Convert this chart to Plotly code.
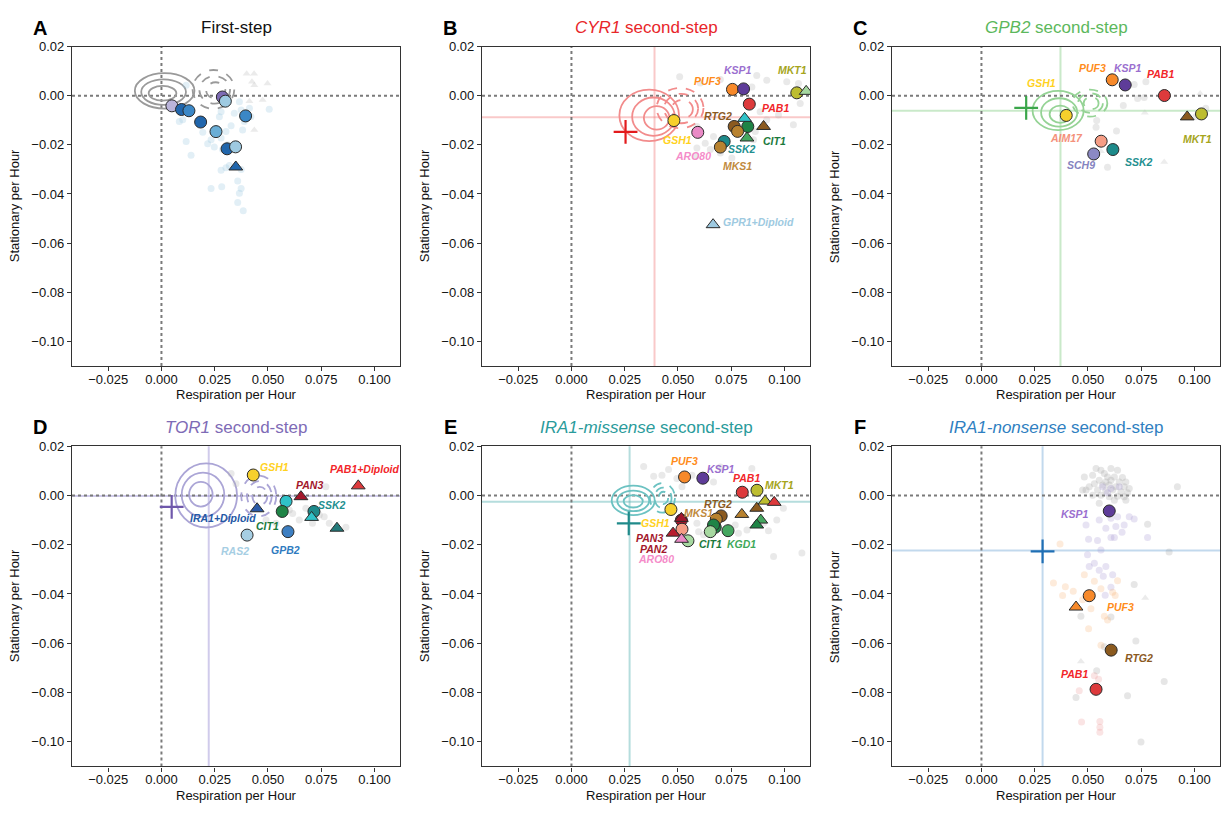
import plotly.graph_objects as go

FONT = "Liberation Sans, Arial, Helvetica, sans-serif"
W, H = 1225, 813

# ---------------- axes ticks ----------------
X_TICKS = [-0.025, 0.0, 0.025, 0.05, 0.075, 0.1]
X_TICKTEXT = ["\u22120.025", "0.000", "0.025", "0.050", "0.075", "0.100"]
Y_TICKS = [0.02, 0.0, -0.02, -0.04, -0.06, -0.08, -0.10]
Y_TICKTEXT = ["0.02", "0.00", "\u22120.02", "\u22120.04", "\u22120.06", "\u22120.08", "\u22120.10"]
X_RANGE = [-0.042, 0.112]
Y_RANGE = [-0.110, 0.020]

# ---------------- colours ----------------
GENE_COLORS = {
    "GSH1": "#f7d02c", "PUF3": "#f7892a", "KSP1": "#5e3c99", "PAB1": "#dd3a3c",
    "MKT1": "#bdbd30", "RTG2": "#8b5a1f", "MKS1": "#b8822f", "CIT1": "#1f8446",
    "KGD1": "#45a760", "SSK2": "#1d8a8a", "ARO80": "#ea8ac6", "AIM17": "#f59d85",
    "SCH9": "#8b89c4", "GPR1": "#9ecae1", "PAN3": "#a3172b", "PAN2": "#b71c2e",
    "RAS2": "#a6cee3", "GPB2": "#3d7fc2", "IRA1": "#2b5aa8", "CYAN": "#2fc2c8",
    "LGREEN": "#a6d8a0", "LAV": "#bab4da", "PURP": "#7d6bb3", "DBLUE": "#2166ac",
    "MBLUE": "#3b87c6", "SBLUE": "#6aaed6", "LBLUE": "#9ecae1", "DTEAL": "#237a7a",
}
LABEL_COLORS = {
    "GSH1": "#ffd21f", "PUF3": "#ff8c1a", "KSP1": "#9b6fcf", "PAB1": "#f2262a",
    "MKT1": "#a6a51c", "RTG2": "#8b5a1f", "MKS1": "#c08a3e", "CIT1": "#1b7a3c",
    "KGD1": "#3fa95a", "SSK2": "#238f8f", "ARO80": "#f58cc9", "AIM17": "#f4917b",
    "SCH9": "#8583c0", "GPR1+Diploid": "#9ecae1", "PAN3": "#a3172b", "PAN2": "#a3172b",
    "RAS2": "#a6cee3", "GPB2": "#2f7bbf", "IRA1+Diploid": "#2458a5", "PAB1+Diploid": "#f2262a",
}

# ---------------- panel A : first step ----------------
A_gene = ["LAV", "DBLUE", "MBLUE", "PURP", "LBLUE", "MBLUE", "DBLUE", "SBLUE", "DBLUE", "LBLUE", "DBLUE"]
A_x = [0.0049, 0.0094, 0.0129, 0.0286, 0.0300, 0.0395, 0.0184, 0.0256, 0.0308, 0.0348, 0.0349]
A_y = [-0.0041, -0.0056, -0.0061, -0.0005, -0.0022, -0.0082, -0.0107, -0.0146, -0.0216, -0.0208, -0.0290]
A_kind = ["h", "h", "h", "h", "h", "h", "h", "h", "h", "h", "d"]
A_bg_x = [0.0116, 0.0084, 0.0100, 0.0194, 0.0272, 0.0280, 0.0327, 0.0303, 0.0381, 0.0389,
          0.0374, 0.0413, 0.0420, 0.0116, 0.0139, 0.0217, 0.0233, 0.0248, 0.0280, 0.0287,
          0.0311, 0.0280, 0.0303, 0.0319, 0.0374, 0.0358, 0.0374, 0.0366, 0.0358, 0.0384,
          0.0233, 0.0283, 0.0506, 0.0366, 0.0342]
A_bg_y = [0.0043, -0.0105, -0.0098, -0.0149, -0.0085, -0.0065, -0.0122, -0.0145, -0.0139, -0.0105,
          -0.0058, -0.0051, -0.0085, -0.0186, -0.0242, -0.0195, -0.0179, -0.0209, -0.0172, -0.0219,
          -0.0199, -0.0303, -0.0293, -0.0284, -0.0300, -0.0347, -0.0378, -0.0397, -0.0435, -0.0468,
          -0.0378, -0.0370, -0.0055, -0.0024, -0.0071]
A_bgtri_x = [0.0400, 0.0435, 0.0436, 0.0498, 0.0425, 0.0413, 0.0475, 0.0436]
A_bgtri_y = [0.0090, 0.0090, 0.0043, 0.0050, 0.0057, -0.0022, -0.0017, -0.0139]

# ---------------- panel B : CYR1 ----------------
B_gene = ["GSH1", "ARO80", "PUF3", "KSP1", "MKT1", "LGREEN", "PAB1", "CYAN", "RTG2", "CIT1",
          "RTG2", "MKS1", "KGD1", "SSK2", "MKS1", "GPR1"]
B_x = [0.0481, 0.0593, 0.0756, 0.0808, 0.1058, 0.1102, 0.0835, 0.0813, 0.0764, 0.0828,
       0.0902, 0.0780, 0.0824, 0.0717, 0.0699, 0.0665]
B_y = [-0.0101, -0.0149, 0.0026, 0.0028, 0.0012, 0.0018, -0.0034, -0.0092, -0.0125, -0.0125,
       -0.0125, -0.0145, -0.0172, -0.0186, -0.0209, -0.0525]
B_kind = ["h", "h", "h", "h", "h", "d", "h", "d", "h", "h", "d", "h", "d", "h", "h", "d"]
B_lab = ["KSP1", "MKT1", "PUF3", "PAB1", "RTG2", "GSH1", "CIT1", "SSK2", "ARO80", "MKS1", "GPR1+Diploid"]
B_lab_x = [0.0783, 0.1036, 0.0638, 0.0960, 0.0689, 0.0497, 0.0952, 0.0800, 0.0572, 0.0780, 0.0877]
B_lab_y = [0.0106, 0.0105, 0.0061, -0.0048, -0.0082, -0.0182, -0.0186, -0.0215, -0.0246, -0.0284, -0.0516]
B_bg_x = [0.0508, 0.0605, 0.0699, 0.0870, 0.0847, 0.0917, 0.1011, 0.1066, 0.1074, 0.0495,
          0.0589, 0.0667, 0.0706, 0.0886, 0.0972, 0.1042, 0.0917, 0.0863, 0.0699, 0.0652,
          0.0589, 0.0753, 0.0628, 0.0855, 0.0581]
B_bg_y = [0.0077, 0.0052, 0.0066, 0.0083, 0.0036, 0.0063, 0.0057, 0.0050, -0.0031, -0.0098,
          -0.0125, -0.0166, -0.0176, -0.0065, -0.0078, -0.0118, -0.0098, -0.0145, -0.0233, -0.0219,
          -0.0213, -0.0253, -0.0193, -0.0179, -0.0246]

# ---------------- panel C : GPB2 ----------------
C_gene = ["GSH1", "PUF3", "KSP1", "PAB1", "RTG2", "MKT1", "AIM17", "SSK2", "SCH9"]
C_x = [0.0398, 0.0614, 0.0675, 0.0859, 0.0966, 0.1033, 0.0562, 0.0617, 0.0527]
C_y = [-0.0080, 0.0065, 0.0044, 0.0001, -0.0086, -0.0074, -0.0185, -0.0219, -0.0237]
C_kind = ["h", "h", "h", "h", "d", "h", "h", "h", "h"]
C_lab = ["GSH1", "PUF3", "KSP1", "PAB1", "AIM17", "MKT1", "SSK2", "SCH9"]
C_lab_x = [0.0280, 0.0520, 0.0689, 0.0839, 0.0397, 0.1013, 0.0741, 0.0467]
C_lab_y = [0.0054, 0.0114, 0.0114, 0.0088, -0.0171, -0.0175, -0.0270, -0.0283]
C_bg_x = [0.0717, 0.0772, 0.0733, 0.0666, 0.0541, 0.0538, 0.0634, 0.0592, 0.0764, 0.1053, 0.1007]
C_bg_y = [0.0046, 0.0057, -0.0011, -0.0040, -0.0101, -0.0128, -0.0143, -0.0291, -0.0007, -0.0051, -0.0085]
C_bgtri_x = [0.0767, 0.0858, 0.1027, 0.0561]
C_bgtri_y = [-0.0069, -0.0270, 0.0009, -0.0226]

# ---------------- panel D : TOR1 ----------------
D_gene = ["GSH1", "PAB1", "PAN3", "CYAN", "IRA1", "CIT1", "SSK2", "CYAN", "DTEAL", "RAS2", "GPB2"]
D_x = [0.0431, 0.0924, 0.0655, 0.0585, 0.0449, 0.0567, 0.0716, 0.0705, 0.0824, 0.0402, 0.0594]
D_y = [0.0083, 0.0039, -0.0005, -0.0024, -0.0054, -0.0065, -0.0065, -0.0089, -0.0133, -0.0161, -0.0147]
D_kind = ["h", "d", "d", "h", "d", "h", "h", "d", "d", "h", "h"]
D_lab = ["GSH1", "PAB1+Diploid", "PAN3", "SSK2", "IRA1+Diploid", "CIT1", "RAS2", "GPB2"]
D_lab_x = [0.0530, 0.0956, 0.0694, 0.0800, 0.0287, 0.0498, 0.0347, 0.0581]
D_lab_y = [0.0116, 0.0106, 0.0042, -0.0040, -0.0092, -0.0122, -0.0227, -0.0222]
D_bg_x = [0.0327, 0.0350, 0.0600, 0.0616, 0.0647, 0.0678, 0.0741, 0.0788, 0.0866, 0.0772,
          0.0491, 0.0538, 0.0709, 0.0764]
D_bg_y = [0.0089, 0.0048, -0.0059, -0.0073, -0.0100, -0.0052, -0.0079, -0.0113, -0.0129, 0.0035,
          -0.0100, -0.0113, -0.0113, -0.0086]

# ---------------- panel E : IRA1-missense ----------------
E_gene = ["PUF3", "KSP1", "PAB1", "MKT1", "MKT1", "PAB1", "RTG2", "MKS1", "KGD1", "CIT1",
          "GSH1", "PAN3", "PAN3", "AIM17", "PAN2", "ARO80", "LGREEN", "RTG2", "MKS1", "CIT1",
          "CIT1", "LGREEN", "KGD1"]
E_x = [0.0531, 0.0617, 0.0802, 0.0871, 0.0909, 0.0952, 0.0870, 0.0800, 0.0889, 0.0870,
       0.0467, 0.0516, 0.0516, 0.0519, 0.0477, 0.0517, 0.0547, 0.0703, 0.0680, 0.0675,
       0.0667, 0.0652, 0.0735]
E_y = [0.0075, 0.0070, 0.0013, 0.0021, -0.0023, -0.0028, -0.0052, -0.0077, -0.0100, -0.0120,
       -0.0057, -0.0100, -0.0093, -0.0137, -0.0153, -0.0178, -0.0184, -0.0083, -0.0096, -0.0129,
       -0.0120, -0.0147, -0.0143]
E_kind = ["h", "h", "h", "h", "d", "d", "d", "d", "d", "d",
          "h", "h", "d", "h", "d", "d", "h", "h", "h", "h",
          "h", "h", "h"]
E_lab = ["PUF3", "KSP1", "PAB1", "MKT1", "RTG2", "MKS1", "GSH1", "PAN3", "CIT1", "KGD1", "PAN2", "ARO80"]
E_lab_x = [0.0531, 0.0702, 0.0824, 0.0975, 0.0686, 0.0598, 0.0394, 0.0367, 0.0652, 0.0800, 0.0386, 0.0398]
E_lab_y = [0.0140, 0.0106, 0.0070, 0.0043, -0.0033, -0.0070, -0.0110, -0.0171, -0.0198, -0.0198, -0.0218, -0.0257]
E_bg_x = [0.0339, 0.0386, 0.0425, 0.0456, 0.0495, 0.0519, 0.0566, 0.0667, 0.0699, 0.0847,
          0.0589, 0.0597, 0.0620, 0.0769, 0.0784, 0.0824, 0.0902, 0.0925, 0.0964, 0.0995,
          0.1082, 0.0949]
E_bg_y = [0.0118, 0.0078, 0.0082, 0.0105, 0.0069, 0.0035, 0.0082, 0.0055, 0.0116, 0.0109,
          -0.0113, -0.0147, -0.0160, -0.0120, -0.0153, -0.0140, -0.0113, -0.0143, -0.0100, -0.0052,
          -0.0234, -0.0248]

# ---------------- panel F : IRA1-nonsense ----------------
F_gene = ["KSP1", "PUF3", "PUF3", "RTG2", "PAB1"]
F_x = [0.0600, 0.0506, 0.0444, 0.0609, 0.0538]
F_y = [-0.0063, -0.0407, -0.0453, -0.0628, -0.0787]
F_kind = ["h", "h", "d", "h", "h"]
F_lab = ["KSP1", "PUF3", "RTG2", "PAB1"]
F_lab_x = [0.0441, 0.0655, 0.0741, 0.0436]
F_lab_y = [-0.0075, -0.0453, -0.0659, -0.0723]
F_gray_x = [0.0538, 0.0561, 0.0608, 0.0639, 0.0522, 0.0577, 0.0592, 0.0624, 0.0662, 0.0553,
            0.0584, 0.0608, 0.0647, 0.0678, 0.0530, 0.0569, 0.0600, 0.0631, 0.0670, 0.0694,
            0.0491, 0.0545, 0.0584, 0.0616, 0.0655, 0.0686, 0.0522, 0.0561, 0.0600, 0.0639,
            0.0670, 0.0553, 0.0624, 0.0678, 0.0483, 0.0475, 0.0506, 0.0920, 0.0717, 0.0725,
            0.0577, 0.0467, 0.0608, 0.0541, 0.0444, 0.0686, 0.0858, 0.0749, 0.0881, 0.0780]
F_gray_y = [0.0109, 0.0102, 0.0109, 0.0102, 0.0082, 0.0089, 0.0075, 0.0075, 0.0073, 0.0062,
            0.0055, 0.0062, 0.0055, 0.0055, 0.0048, 0.0042, 0.0042, 0.0035, 0.0035, 0.0028,
            0.0022, 0.0022, 0.0019, 0.0022, 0.0015, 0.0011, 0.0001, 0.0001, -0.0005, -0.0003,
            -0.0005, -0.0032, -0.0019, -0.0019, 0.0075, 0.0022, 0.0035, 0.0035, -0.0362, -0.0591,
            -0.0614, -0.0490, -0.0493, -0.0712, -0.0820, -0.0813, -0.0755, -0.1001, -0.0230, -0.0117]
F_lav_x = [0.0553, 0.0608, 0.0639, 0.0670, 0.0694, 0.0717, 0.0491, 0.0584, 0.0631, 0.0660,
           0.0608, 0.0624, 0.0545, 0.0503, 0.0498, 0.0561, 0.0530, 0.0506, 0.0584, 0.0553,
           0.0616, 0.0572, 0.0608, 0.0581, 0.0569, 0.0608, 0.0647, 0.0592, 0.0780]
F_lav_y = [-0.0100, -0.0093, -0.0086, -0.0120, -0.0086, -0.0096, -0.0120, -0.0133, -0.0126, -0.0149,
           -0.0171, -0.0171, -0.0183, -0.0178, -0.0241, -0.0221, -0.0275, -0.0288, -0.0288, -0.0304,
           -0.0322, -0.0328, -0.0373, -0.0405, 0.0035, 0.0028, 0.0035, 0.0011, -0.0171]
F_orange_x = [0.0338, 0.0394, 0.0381, 0.0431, 0.0483, 0.0530, 0.0561, 0.0616, 0.0628, 0.0639,
              0.0475, 0.0514, 0.0577, 0.0592, 0.0503, 0.0561, 0.0369]
F_orange_y = [-0.0355, -0.0371, -0.0406, -0.0389, -0.0322, -0.0348, -0.0379, -0.0393, -0.0406, -0.0346,
              -0.0423, -0.0460, -0.0490, -0.0506, -0.0541, -0.0608, -0.0197]
F_red_x = [0.0459, 0.0470, 0.0556, 0.0556, 0.0556, 0.0530, 0.0550]
F_red_y = [-0.0793, -0.0920, -0.0918, -0.0941, -0.0961, -0.0732, -0.0746]
F_bgtri_x = [0.0769, 0.0467]
F_bgtri_y = [-0.0416, -0.0674]

# ---------------- density contours (centre x, centre y, half-width, half-height) ----------------
CONT_SOLID = {
    0: [(0.0015, 0.0020, 0.0140, 0.0072), (0.0010, 0.0015, 0.0105, 0.0052), (0.0005, 0.0010, 0.0065, 0.0030)],
    1: [(0.0365, -0.0080, 0.0140, 0.0105), (0.0385, -0.0085, 0.0100, 0.0078), (0.0400, -0.0090, 0.0060, 0.0048)],
    2: [(0.0360, -0.0060, 0.0120, 0.0080), (0.0365, -0.0068, 0.0085, 0.0058), (0.0370, -0.0075, 0.0050, 0.0035)],
    3: [(0.0210, 0.0000, 0.0145, 0.0130), (0.0195, 0.0003, 0.0100, 0.0090), (0.0185, 0.0005, 0.0055, 0.0050)],
    4: [(0.0290, -0.0020, 0.0101, 0.0060), (0.0290, -0.0022, 0.0075, 0.0042), (0.0290, -0.0024, 0.0045, 0.0025)],
}
CONT_DASH = {
    0: [(0.0244, 0.0026, 0.0098, 0.0079), (0.0250, 0.0024, 0.0072, 0.0056), (0.0255, 0.0022, 0.0045, 0.0033)],
    1: [(0.0510, -0.0050, 0.0110, 0.0082), (0.0515, -0.0052, 0.0080, 0.0060), (0.0520, -0.0055, 0.0050, 0.0038)],
    2: [(0.0509, -0.0030, 0.0082, 0.0055), (0.0512, -0.0030, 0.0058, 0.0040), (0.0515, -0.0030, 0.0035, 0.0025)],
    3: [(0.0457, -0.0002, 0.0082, 0.0083), (0.0460, -0.0002, 0.0058, 0.0060), (0.0462, -0.0002, 0.0035, 0.0037)],
    4: [(0.0427, -0.0010, 0.0059, 0.0060), (0.0430, -0.0010, 0.0040, 0.0042), (0.0432, -0.0010, 0.0022, 0.0025)],
}
CONT_COLOR = {0: "#9a9a9a", 1: "#f28c8c", 2: "#95d395", 3: "#aba5d6", 4: "#6cc2c2"}

# ancestor position (cross) and mean lines
ANC_X = {1: 0.0254, 2: 0.0210, 3: 0.0048, 4: 0.0269, 5: 0.0287}
ANC_Y = {1: -0.0147, 2: -0.0049, 3: -0.0046, 4: -0.0113, 5: -0.0227}
MEAN_X = {1: 0.0390, 2: 0.0371, 3: 0.0222, 4: 0.0273, 5: 0.0287}
MEAN_Y = {1: -0.0087, 2: -0.0061, 3: -0.0002, 4: -0.0026, 5: -0.0223}
ANC_COLOR = {1: "#e31a1c", 2: "#3aa64a", 3: "#6f58ab", 4: "#1f8a8a", 5: "#1f6fb4"}
MEAN_COLOR = {1: "rgba(240,120,120,0.40)", 2: "rgba(120,200,120,0.40)", 3: "rgba(150,140,210,0.45)",
              4: "rgba(90,180,180,0.45)", 5: "rgba(120,170,215,0.45)"}

TITLES = ["First-step", "<i>CYR1</i> second-step", "<i>GPB2</i> second-step",
          "<i>TOR1</i> second-step", "<i>IRA1-missense</i> second-step", "<i>IRA1-nonsense</i> second-step"]
TITLE_COLORS = ["#111111", "#e8262a", "#5cb85c", "#7e6bb6", "#2a9b9b", "#2f7fc1"]
LETTERS = ["A", "B", "C", "D", "E", "F"]

# ---------------- layout geometry (pixels) ----------------
COLS = [(72, 400), (482, 810), (892, 1220)]
ROWS = [(40, 362), (443, 766)]

fig = go.Figure()
layout = dict(width=W, height=H, margin=dict(l=0, r=0, t=0, b=0),
              paper_bgcolor="white", plot_bgcolor="white", showlegend=False,
              font=dict(family=FONT, size=13, color="#111"))
shapes, annots = [], []


def sfx(i):
    return "" if i == 0 else str(i + 1)


for i in range(6):
    r, c = divmod(i, 3)
    x0p, x1p = COLS[c]
    y0p, y1p = ROWS[r]
    ax = dict(showline=True, mirror=True, linecolor="#333", linewidth=1.3, ticks="outside",
              ticklen=4, tickwidth=1, tickcolor="#333", showgrid=False, zeroline=False,
              tickfont=dict(size=13, color="#111", family=FONT))
    layout["xaxis" + sfx(i)] = dict(ax, domain=[x0p / W, x1p / W], anchor="y" + sfx(i), range=X_RANGE,
                                    tickvals=X_TICKS, ticktext=X_TICKTEXT, ticklabelstandoff=-3)
    layout["yaxis" + sfx(i)] = dict(ax, domain=[1 - y1p / H, 1 - y0p / H], anchor="x" + sfx(i), range=Y_RANGE,
                                    tickvals=Y_TICKS, ticktext=Y_TICKTEXT)
    xr, yr = "x" + sfx(i), "y" + sfx(i)
    # contours
    if i in CONT_SOLID:
        for dash, group in (("solid", CONT_SOLID[i]), ("dash", CONT_DASH[i])):
            for (cx, cy, rx, ry) in group:
                shapes.append(dict(type="circle", xref=xr, yref=yr, x0=cx - rx, x1=cx + rx, y0=cy - ry, y1=cy + ry,
                                   line=dict(color=CONT_COLOR[i], width=1.8, dash=dash), layer="below"))
    # mean lines
    if i in MEAN_X:
        shapes.append(dict(type="line", xref=xr, yref=yr + " domain", x0=MEAN_X[i], x1=MEAN_X[i], y0=0, y1=1,
                           line=dict(color=MEAN_COLOR[i], width=2), layer="below"))
        shapes.append(dict(type="line", xref=xr + " domain", yref=yr, x0=0, x1=1, y0=MEAN_Y[i], y1=MEAN_Y[i],
                           line=dict(color=MEAN_COLOR[i], width=2), layer="below"))
    # zero lines
    shapes.append(dict(type="line", xref=xr, yref=yr + " domain", x0=0, x1=0, y0=0, y1=1,
                       line=dict(color="#7a7a7a", width=2, dash="dot"), layer="below"))
    shapes.append(dict(type="line", xref=xr + " domain", yref=yr, x0=0, x1=1, y0=0, y1=0,
                       line=dict(color="#7a7a7a", width=2, dash="dot"), layer="below"))
    # titles / letters / axis titles
    cxp = (x0p + x1p) / 2
    annots.append(dict(text=TITLES[i], x=cxp / W, y=1 - (y0p - 19) / H, xref="paper", yref="paper",
                       showarrow=False, font=dict(size=17, color=TITLE_COLORS[i], family=FONT),
                       xanchor="center", yanchor="middle"))
    annots.append(dict(text="<b>" + LETTERS[i] + "</b>", x=(x0p - 32) / W, y=1 - (y0p - 19) / H,
                       xref="paper", yref="paper", showarrow=False,
                       font=dict(size=20, color="#000", family=FONT), xanchor="center", yanchor="middle"))
    annots.append(dict(text="Respiration per Hour", x=cxp / W, y=1 - (y1p + 29) / H, xref="paper", yref="paper",
                       showarrow=False, font=dict(size=13, color="#111", family=FONT),
                       xanchor="center", yanchor="middle"))
    annots.append(dict(text="Stationary per Hour", x=(x0p - 58) / W, y=1 - ((y0p + y1p) / 2) / H,
                       xref="paper", yref="paper", textangle=-90, showarrow=False,
                       font=dict(size=13, color="#111", family=FONT), xanchor="center", yanchor="middle"))

layout["shapes"] = shapes


def bg(i, xs, ys, color, opacity, symbol="circle", size=7):
    fig.add_trace(go.Scatter(x=xs, y=ys, mode="markers", xaxis="x" + sfx(i), yaxis="y" + sfx(i),
                             marker=dict(symbol=symbol, size=size, color=color, opacity=opacity,
                                         line=dict(width=0)), hoverinfo="skip"))


def main(i, genes, xs, ys, kinds):
    for kind, sym, size in (("h", "circle", 12), ("d", "triangle-up", 12)):
        idx = [k for k, kk in enumerate(kinds) if kk == kind]
        if not idx:
            continue
        fig.add_trace(go.Scatter(
            x=[xs[k] for k in idx], y=[ys[k] for k in idx], mode="markers",
            xaxis="x" + sfx(i), yaxis="y" + sfx(i),
            marker=dict(symbol=sym, size=size, color=[GENE_COLORS[genes[k]] for k in idx],
                        line=dict(color="#2a2a2a", width=1))))


def labels(i, labs, lx, ly):
    for t, x, y in zip(labs, lx, ly):
        annots.append(dict(text="<b><i>" + t + "</i></b>", x=x, y=y, xref="x" + sfx(i), yref="y" + sfx(i),
                           showarrow=False, font=dict(size=10.5, color=LABEL_COLORS[t], family=FONT),
                           xanchor="center", yanchor="middle"))


def cross(i):
    fig.add_trace(go.Scatter(x=[ANC_X[i]], y=[ANC_Y[i]], mode="markers", xaxis="x" + sfx(i), yaxis="y" + sfx(i),
                             marker=dict(symbol="cross-thin", size=17, line=dict(color=ANC_COLOR[i], width=2.2))))


# Panel A
bg(0, A_bg_x, A_bg_y, "#9ecae1", 0.30)
bg(0, A_bgtri_x, A_bgtri_y, "#bdbdbd", 0.30, "triangle-up")
main(0, A_gene, A_x, A_y, A_kind)
# Panel B
bg(1, B_bg_x, B_bg_y, "#b0b0b0", 0.28)
main(1, B_gene, B_x, B_y, B_kind)
cross(1)
labels(1, B_lab, B_lab_x, B_lab_y)
# Panel C
bg(2, C_bg_x, C_bg_y, "#b0b0b0", 0.28)
bg(2, C_bgtri_x, C_bgtri_y, "#c0c0c0", 0.28, "triangle-up")
main(2, C_gene, C_x, C_y, C_kind)
cross(2)
labels(2, C_lab, C_lab_x, C_lab_y)
# Panel D
bg(3, D_bg_x, D_bg_y, "#b0b0b0", 0.28)
main(3, D_gene, D_x, D_y, D_kind)
cross(3)
labels(3, D_lab, D_lab_x, D_lab_y)
# Panel E
bg(4, E_bg_x, E_bg_y, "#b0b0b0", 0.28)
main(4, E_gene, E_x, E_y, E_kind)
cross(4)
labels(4, E_lab, E_lab_x, E_lab_y)
# Panel F
bg(5, F_gray_x, F_gray_y, "#9a9a9a", 0.25)
bg(5, F_lav_x, F_lav_y, "#9e8fcf", 0.25)
bg(5, F_orange_x, F_orange_y, "#f7a35c", 0.22)
bg(5, F_red_x, F_red_y, "#e8787a", 0.20)
bg(5, F_bgtri_x, F_bgtri_y, "#bdbdbd", 0.30, "triangle-up")
main(5, F_gene, F_x, F_y, F_kind)
cross(5)
labels(5, F_lab, F_lab_x, F_lab_y)

layout["annotations"] = annots
fig.update_layout(**layout)
fig.write_html("out.html")
